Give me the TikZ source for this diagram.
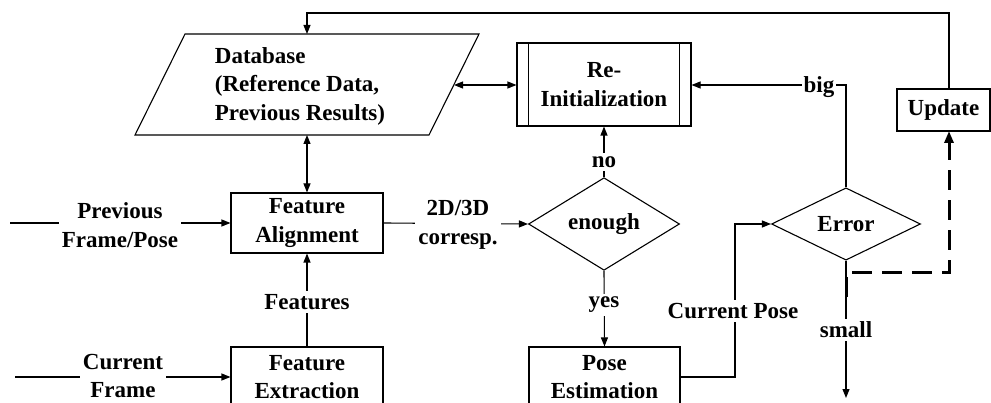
\documentclass[tikz,border=0pt]{standalone}
\usepackage{fontspec}
\setmainfont{Liberation Serif}
\usetikzlibrary{shapes.geometric,arrows.meta}
\begin{document}
\begin{tikzpicture}[x=1pt,y=-1pt,
  every node/.style={font=\fontsize{23}{28.5}\selectfont\bfseries, align=center},
  line/.style={line width=1.1pt},
  arr/.style={line width=1.1pt,-{Triangle[length=9pt,width=7pt]}},
  darr/.style={line width=1.1pt,{Triangle[length=9pt,width=7pt]}-{Triangle[length=9pt,width=7pt]}},
  boxnode/.style={draw,line width=1.1pt,rectangle,inner sep=0pt},
  dia/.style={draw,line width=1.1pt,diamond,inner sep=0pt},
  lbl/.style={fill=white,inner sep=3pt,yshift=-2pt}
]
\useasboundingbox (0,0) rectangle (991,403);
\fill[white] (0,0) rectangle (991,403);

% Database parallelogram
\draw[line] (185,34) -- (479,34) -- (429,135) -- (135,135) -- cycle;
\node[align=left,yshift=-2pt] (db) at (300,84) {Database\\(Reference Data,\\Previous Results)};
\coordinate (dbN) at (307,34);
\coordinate (dbS) at (307,135);
\coordinate (dbE) at (454,85);

% Re-Initialization
\node[boxnode,minimum width=174pt,minimum height=83pt] (ri) at (604,84.5) {Re-\\Initialization};
\draw[line] ([xshift=12pt]ri.north west) -- ([xshift=12pt]ri.south west);
\draw[line] ([xshift=-12pt]ri.north east) -- ([xshift=-12pt]ri.south east);

% Update
\node[boxnode,minimum width=93pt,minimum height=42pt] (up) at (943.5,110) {Update};
\coordinate (upT) at (949,89);
\coordinate (upB) at (949,131);

% Feature boxes
\node[boxnode,minimum width=152pt,minimum height=60pt] (fa) at (307,223) {Feature\\Alignment};
\node[boxnode,minimum width=152pt,minimum height=60pt] (fe) at (307,377) {Feature\\Extraction};
\node[boxnode,minimum width=151pt,minimum height=60pt] (pe) at (604.5,377) {Pose\\Estimation};

% Diamonds
\node[dia,minimum width=151pt,minimum height=64pt] (en) at (604,224) {enough};
\node[dia,minimum width=149pt,minimum height=64pt] (er) at (846,224) {Error};

% Inputs
\coordinate (pIn) at (10,223);
\coordinate (cIn) at (15,377);
\draw[arr] (pIn) -- (fa.west);
\node[lbl] (lp) at (120,223) {Previous\\Frame/Pose};
\draw[arr] (cIn) -- (fe.west);
\node[lbl,yshift=3pt] (lc) at (123,377) {Current\\Frame};

% Features
\draw[arr] (fe.north) -- (fa.south);
\node[lbl] (lf) at (307,300) {Features};

% 2D/3D
\draw[arr] (fa.east) -- (en.west);
\node[lbl] (l2d) at (458,223) {2D/3D\\corresp.};

% db <-> fa, db <-> ri
\draw[darr] (dbS) -- (fa.north);
\draw[darr] (dbE) -- (dbE -| ri.west);

% top feedback
\draw[arr] (upT) -- (949,13) -| (dbN);

% no
\draw[arr] (en.north) -- (ri.south);
\node[lbl] (lno) at (604,160) {no};

% yes
\draw[arr] (en.south) -- (pe.north);
\node[lbl] (lyes) at (604,303) {yes};

% Current pose
\coordinate (cpC) at (735,377);
\draw[arr] (pe.east |- cpC) -- (cpC) |- (er.west);
\node[lbl] (lcp) at (733,309) {Current Pose};

% big
\coordinate (bigC) at (846,85);
\draw[arr] (er.north) -- (bigC) -- (bigC -| ri.east);
\node[lbl,inner sep=2pt] (lbig) at (819,85) {big};

% small
\coordinate (smE) at (846,398);
\draw[arr] (er.south) -- (smE);
\node[lbl] (lsm) at (846,328) {small};

% dashed update
\coordinate (dA) at (846,297);
\coordinate (dB) at (846,273);
\draw[line width=3pt,dash pattern=on 20pt off 10pt,-{Triangle[length=12pt,width=9pt]}] (dA) -- (dB) -- (949,273) -- (upB);
\end{tikzpicture}
\end{document}
